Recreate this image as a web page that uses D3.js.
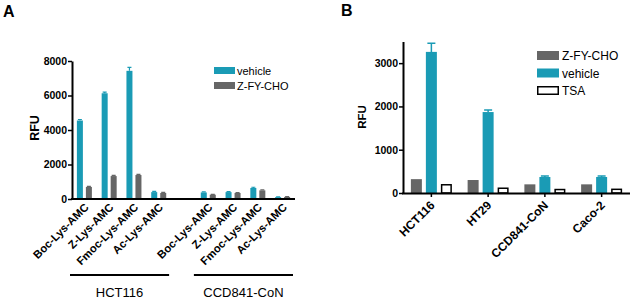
<!DOCTYPE html>
<html>
<head>
<meta charset="utf-8">
<script src="https://cdn.jsdelivr.net/npm/d3@7"></script>
<style>
  body { margin: 0; background: #fff; }
  svg { font-family: "Liberation Sans", Arial, sans-serif; }
  .axis path, .axis line { stroke: #000; }
</style>
</head>
<body>
<svg id="chart" width="632" height="301"></svg>
<script>
// ---- panel A data ----
const substrates = ["Boc-Lys-AMC", "Z-Lys-AMC", "Fmoc-Lys-AMC", "Ac-Lys-AMC"];
const cellsA = ["HCT116", "CCD841-CoN"];
const seriesA = ["vehicle", "Z-FY-CHO"];
const vehicleA = { "HCT116": [4550, 6130, 7430, 400], "CCD841-CoN": [380, 400, 640, 110] };
const zfyA = { "HCT116": [700, 1330, 1390, 350], "CCD841-CoN": [250, 350, 500, 120] };
const vehicleErrA = { "HCT116": [60, 60, 200, 40], "CCD841-CoN": [30, 30, 40, 20] };
const zfyErrA = { "HCT116": [30, 40, 40, 30], "CCD841-CoN": [20, 20, 30, 15] };
const yTicksA = [0, 2000, 4000, 6000, 8000];

// ---- panel B data ----
const cellsB = ["HCT116", "HT29", "CCD841-CoN", "Caco-2"];
const seriesB = ["Z-FY-CHO", "vehicle", "TSA"];
const zfyB = [320, 300, 200, 200];
const vehicleB = [3260, 1870, 370, 370];
const tsaB = [190, 110, 80, 85];
const vehicleErrB = [200, 50, 20, 20];
const yTicksB = [0, 1000, 2000, 3000];

const teal = "#1a9bb5", grey = "#666666";
const svg = d3.select("#chart");
const fmt = d3.format("d");

// ================= Panel A =================
(function () {
	const top = 61, base = 199, left = 72, right = 295;
	// one empty slot between the two cell lines
	const slots = [];
	cellsA.forEach((c, ci) => {
		if (ci > 0) slots.push("gap");
		substrates.forEach(s => slots.push(c + "|" + s));
	});
	const x = d3.scaleBand().domain(slots).range([left, right]);
	const x1 = d3.scaleBand().domain(seriesA).range([-7.5, 7.5]).paddingInner(1 / 3);
	const y = d3.scaleLinear().domain([0, 8000]).range([base, top]);

	const rows = [];
	cellsA.forEach(c => substrates.forEach((s, i) => {
		rows.push({ key: c + "|" + s, sub: s, series: "vehicle", v: vehicleA[c][i], e: vehicleErrA[c][i] });
		rows.push({ key: c + "|" + s, sub: s, series: "Z-FY-CHO", v: zfyA[c][i], e: zfyErrA[c][i] });
	}));

	const g = svg.append("g");
	const cx = d => x(d.key) + x.bandwidth() / 2 + x1(d.series);

	g.selectAll(".err").data(rows).enter().append("path")
		.attr("d", d => {
			const m = cx(d) + x1.bandwidth() / 2;
			return `M${m},${y(d.v)}V${y(d.v + d.e)}M${m - 2},${y(d.v + d.e)}H${m + 2}`;
		})
		.attr("stroke", d => d.series == "vehicle" ? teal : grey)
		.attr("stroke-width", 1.2).attr("fill", "none");

	g.selectAll(".bar").data(rows).enter().append("rect")
		.attr("x", cx)
		.attr("y", d => y(d.v))
		.attr("width", x1.bandwidth())
		.attr("height", d => base - y(d.v))
		.attr("fill", d => d.series == "vehicle" ? teal : grey);

	// axes
	g.append("g").attr("class", "axis").attr("transform", `translate(${left},0)`)
		.call(d3.axisLeft(y).tickValues(yTicksA).tickFormat(fmt).tickSize(4).tickSizeOuter(0))
		.call(a => a.select(".domain").attr("stroke-width", 2))
		.call(a => a.selectAll("line").attr("stroke-width", 1.5))
		.call(a => a.selectAll("text").attr("font-size", 10.5).attr("font-weight", "bold").attr("x", -5));
	g.append("line").attr("x1", left - 1).attr("x2", right).attr("y1", base).attr("y2", base)
		.attr("stroke", "#000").attr("stroke-width", 2);

	// rotated substrate labels
	g.selectAll(".xl").data(slots.filter(s => s != "gap")).enter().append("text")
		.attr("transform", s => `translate(${x(s) + x.bandwidth() / 2 + 5},208) rotate(-45)`)
		.attr("text-anchor", "end")
		.attr("font-size", 11.2).attr("font-weight", "bold")
		.text(s => s.split("|")[1]);

	// group brackets
	cellsA.forEach(c => {
		const x0 = x(c + "|" + substrates[0]) - 2, x9 = x(c + "|" + substrates[3]) + x.bandwidth() - 2;
		g.append("line").attr("x1", x0).attr("x2", x9).attr("y1", 275).attr("y2", 275)
			.attr("stroke", "#000").attr("stroke-width", 2);
		g.append("text").attr("x", (x0 + x9) / 2).attr("y", 297).attr("text-anchor", "middle")
			.attr("font-size", 13).text(c);
	});

	g.append("text").attr("transform", "translate(39,128) rotate(-90)").attr("text-anchor", "middle")
		.attr("font-size", 12.5).attr("font-weight", "bold").text("RFU");
	g.append("text").attr("x", 3).attr("y", 17).attr("font-size", 16).attr("font-weight", "bold").text("A");

	// legend
	const leg = g.selectAll(".leg").data(seriesA).enter().append("g")
		.attr("transform", (d, i) => `translate(214,${67 + i * 15})`);
	leg.append("rect").attr("width", 21).attr("height", 7).attr("fill", d => d == "vehicle" ? teal : grey);
	leg.append("text").attr("x", 23).attr("y", 7.5).attr("font-size", 11).text(d => d);
})();

// ================= Panel B =================
(function () {
	const top = 41.5, base = 193, left = 403, right = 630;
	const x = d3.scaleBand().domain(cellsB).range([left, right]);
	const x1 = d3.scaleBand().domain(seriesB).range([-20.5, 20.5]).paddingInner(4 / 15);
	const y = d3.scaleLinear().domain([0, 3500]).range([base, top]);

	const rows = [];
	cellsB.forEach((c, i) => {
		rows.push({ c, series: "Z-FY-CHO", v: zfyB[i], e: 0 });
		rows.push({ c, series: "vehicle", v: vehicleB[i], e: vehicleErrB[i] });
		rows.push({ c, series: "TSA", v: tsaB[i], e: 0 });
	});
	const g = svg.append("g");
	const cx = d => x(d.c) + x.bandwidth() / 2 + x1(d.series);

	g.selectAll(".err").data(rows.filter(d => d.e > 0)).enter().append("path")
		.attr("d", d => {
			const m = cx(d) + x1.bandwidth() / 2;
			return `M${m},${y(d.v)}V${y(d.v + d.e)}M${m - 4},${y(d.v + d.e)}H${m + 4}`;
		})
		.attr("stroke", teal).attr("stroke-width", 1.5).attr("fill", "none");

	g.selectAll(".bar").data(rows).enter().append("rect")
		.attr("x", d => d.series == "TSA" ? cx(d) + 0.75 : cx(d))
		.attr("y", d => y(d.v))
		.attr("width", d => d.series == "TSA" ? x1.bandwidth() - 1.5 : x1.bandwidth())
		.attr("height", d => base - y(d.v))
		.attr("fill", d => d.series == "vehicle" ? teal : d.series == "TSA" ? "#fff" : grey)
		.attr("stroke", d => d.series == "TSA" ? "#000" : "none")
		.attr("stroke-width", 1.5);

	g.append("g").attr("class", "axis").attr("transform", `translate(${left},0)`)
		.call(d3.axisLeft(y).tickValues(yTicksB).tickFormat(fmt).tickSize(4).tickSizeOuter(0))
		.call(a => a.select(".domain").attr("stroke-width", 2))
		.call(a => a.selectAll("line").attr("stroke-width", 1.5))
		.call(a => a.selectAll("text").attr("font-size", 10.5).attr("font-weight", "bold").attr("x", -5));
	g.append("g").attr("class", "axis").attr("transform", `translate(0,${base})`)
		.call(d3.axisBottom(x).tickSize(4).tickSizeOuter(0))
		.call(a => a.select(".domain").attr("stroke-width", 2).attr("d", `M${left - 1},0.5H${right}`))
		.call(a => a.selectAll("line").attr("stroke-width", 1.5))
		.call(a => a.selectAll("text").attr("font-size", 12).attr("font-weight", "bold")
			.attr("text-anchor", "end").attr("y", 0).attr("dy", 0)
			.attr("transform", "translate(4,13) rotate(-45)"));

	g.append("text").attr("transform", "translate(366,117) rotate(-90)").attr("text-anchor", "middle")
		.attr("font-size", 11.5).attr("font-weight", "bold").text("RFU");
	g.append("text").attr("x", 341).attr("y", 16).attr("font-size", 16).attr("font-weight", "bold").text("B");

	const leg = g.selectAll(".leg").data(seriesB).enter().append("g")
		.attr("transform", (d, i) => `translate(537,${51 + i * 17.5})`);
	leg.append("rect").attr("x", d => d == "TSA" ? 0.75 : 0).attr("y", d => d == "TSA" ? 0.75 : 0)
		.attr("width", d => d == "TSA" ? 20.5 : 22).attr("height", d => d == "TSA" ? 7.5 : 9)
		.attr("fill", d => d == "vehicle" ? teal : d == "TSA" ? "#fff" : grey)
		.attr("stroke", d => d == "TSA" ? "#000" : "none").attr("stroke-width", 1.5);
	leg.append("text").attr("x", 25).attr("y", 9).attr("font-size", 12).text(d => d);
})();
</script>
</body>
</html>
